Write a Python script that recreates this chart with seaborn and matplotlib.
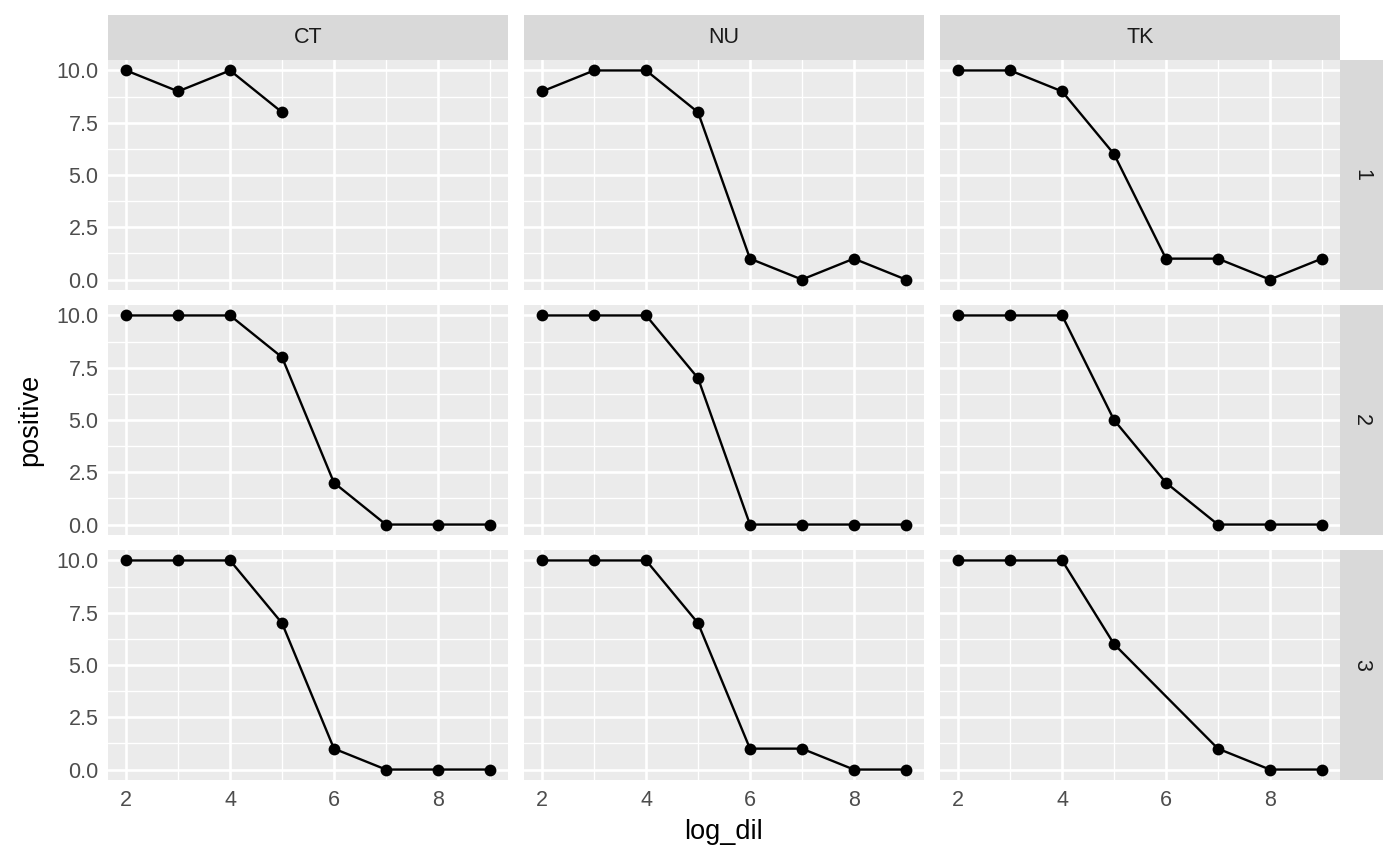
import pandas as pd
import seaborn as sns
import matplotlib.pyplot as plt
from matplotlib.patches import Rectangle
from matplotlib.ticker import MultipleLocator, FormatStrFormatter

sites = ['CT', 'NU', 'TK']
reps = [1, 2, 3]

dil_full = [2, 3, 4, 5, 6, 7, 8, 9]
dil_ct1 = [2, 3, 4, 5]
dil_tk3 = [2, 3, 4, 5, 7, 8, 9]

pos_ct1 = [10, 9, 10, 8]
pos_nu1 = [9, 10, 10, 8, 1, 0, 1, 0]
pos_tk1 = [10, 10, 9, 6, 1, 1, 0, 1]
pos_ct2 = [10, 10, 10, 8, 2, 0, 0, 0]
pos_nu2 = [10, 10, 10, 7, 0, 0, 0, 0]
pos_tk2 = [10, 10, 10, 5, 2, 0, 0, 0]
pos_ct3 = [10, 10, 10, 7, 1, 0, 0, 0]
pos_nu3 = [10, 10, 10, 7, 1, 1, 0, 0]
pos_tk3 = [10, 10, 10, 6, 1, 0, 0]

panels = [
    ('CT', 1, dil_ct1, pos_ct1), ('NU', 1, dil_full, pos_nu1), ('TK', 1, dil_full, pos_tk1),
    ('CT', 2, dil_full, pos_ct2), ('NU', 2, dil_full, pos_nu2), ('TK', 2, dil_full, pos_tk2),
    ('CT', 3, dil_full, pos_ct3), ('NU', 3, dil_full, pos_nu3), ('TK', 3, dil_tk3, pos_tk3),
]
rows = []
for site, rep, xs, ys in panels:
    for x, y in zip(xs, ys):
        rows.append({'site': site, 'rep': rep, 'log_dil': x, 'positive': y})
df = pd.DataFrame(rows)

sns.set_style('darkgrid')
plt.rcParams['font.family'] = ['Liberation Sans', 'DejaVu Sans']

g = sns.FacetGrid(df, row='rep', col='site', row_order=reps, col_order=sites,
                  sharex=True, sharey=True, despine=False)
g.map_dataframe(sns.lineplot, x='log_dil', y='positive', color='black',
                linewidth=1.7, marker='o', markersize=8.5, markeredgewidth=0)
g.figure.set_size_inches(14, 8.65)
g.figure.subplots_adjust(left=108/1400, right=1340/1400, top=1-60/865, bottom=1-780/865,
                         wspace=16/400, hspace=15/230)
g.set_titles('')
g.set_axis_labels('', '')

for i, rep in enumerate(reps):
    for j, site in enumerate(sites):
        ax = g.axes[i, j]
        ax.set_facecolor('#EBEBEB')
        for s in ax.spines.values():
            s.set_visible(False)
        ax.set_xlim(1.65, 9.35)
        ax.set_ylim(-0.5, 10.5)
        ax.xaxis.set_major_locator(MultipleLocator(2))
        ax.xaxis.set_minor_locator(MultipleLocator(1))
        ax.yaxis.set_major_locator(MultipleLocator(2.5))
        ax.yaxis.set_minor_locator(MultipleLocator(1.25))
        ax.yaxis.set_major_formatter(FormatStrFormatter('%.1f'))
        ax.grid(which='major', color='white', linewidth=1.9)
        ax.grid(which='minor', color='white', linewidth=0.95)
        ax.set_axisbelow(True)
        ax.tick_params(which='minor', length=0)
        ax.tick_params(which='major', length=5, width=1.6, color='#333333',
                       labelcolor='#4D4D4D', labelsize=15.5, pad=2)
        if j > 0:
            ax.tick_params(axis='y', length=0, labelleft=False)
        if i < 2:
            ax.tick_params(axis='x', length=0, labelbottom=False)
        # top strips
        if i == 0:
            ax.add_patch(Rectangle((0, 1), 1, 45/230, transform=ax.transAxes,
                                   facecolor='#D9D9D9', edgecolor='none', clip_on=False))
            ax.text(0.5, 1 + 22.5/230, site, transform=ax.transAxes, ha='center',
                    va='center', fontsize=15.5, color='#1A1A1A')
        # right strips
        if j == 2:
            ax.add_patch(Rectangle((1, 0), 43/400, 1, transform=ax.transAxes,
                                   facecolor='#D9D9D9', edgecolor='none', clip_on=False))
            ax.text(1 + 21.5/400, 0.5, str(rep), transform=ax.transAxes, ha='center',
                    va='center', rotation=-90, fontsize=15.5, color='#1A1A1A')

g.figure.text((108 + 1340) / 2 / 1400, 1 - 832/865, 'log_dil', ha='center', va='center',
              fontsize=19.5, color='black')
g.figure.text(30/1400, 1 - 420/865, 'positive', ha='center', va='center',
              rotation=90, fontsize=19.5, color='black')

g.figure.savefig('out.png', dpi=100, facecolor='white')
